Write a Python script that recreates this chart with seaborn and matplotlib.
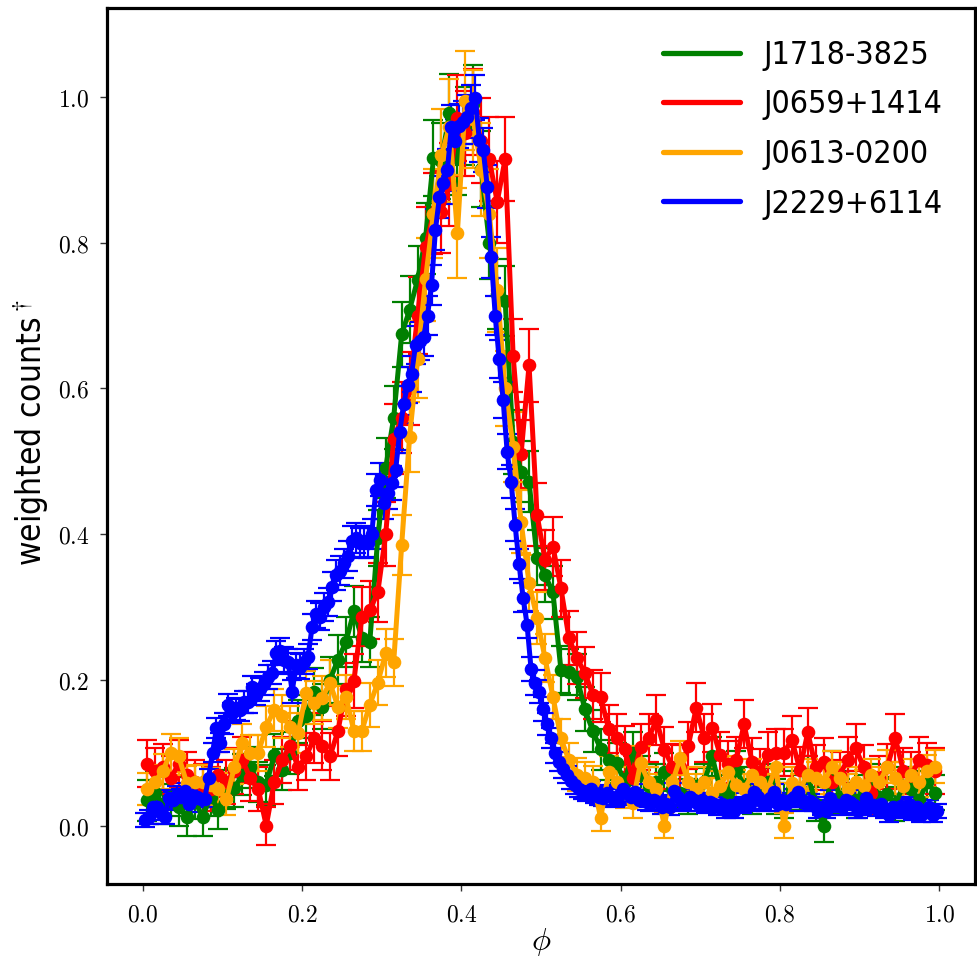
import numpy as np
import pandas as pd
import matplotlib
matplotlib.use("Agg")
import matplotlib.pyplot as plt
import seaborn as sns
from matplotlib.lines import Line2D
from matplotlib.font_manager import FontProperties

# ---------------- data ----------------
names = ["J1718-3825", "J0659+1414", "J0613-0200", "J2229+6114"]
colors = ["green", "red", "orange", "blue"]

phase100 = [round(0.005 + 0.01 * i, 4) for i in range(100)]
phase200 = [round(0.0025 + 0.005 * i, 5) for i in range(200)]

green_y = [
    0.035, 0.045, 0.030, 0.040, 0.025, 0.012, 0.035, 0.012, 0.040, 0.022,
    0.050, 0.052, 0.070, 0.080, 0.060, 0.056, 0.097, 0.077, 0.100, 0.143,
    0.150, 0.184, 0.163, 0.200, 0.228, 0.252, 0.294, 0.258, 0.252, 0.395,
    0.491, 0.560, 0.674, 0.708, 0.749, 0.806, 0.916, 0.912, 0.978, 0.917,
    0.960, 0.990, 0.901, 0.800, 0.730, 0.720, 0.527, 0.486, 0.472, 0.368,
    0.344, 0.320, 0.214, 0.211, 0.204, 0.160, 0.130, 0.105, 0.090, 0.086,
    0.060, 0.100, 0.070, 0.055, 0.060, 0.074, 0.050, 0.045, 0.040, 0.054,
    0.060, 0.095, 0.050, 0.045, 0.077, 0.055, 0.040, 0.054, 0.060, 0.040,
    0.035, 0.050, 0.045, 0.070, 0.030, 0.000, 0.077, 0.040, 0.050, 0.035,
    0.045, 0.059, 0.040, 0.043, 0.030, 0.055, 0.050, 0.035, 0.060, 0.045,
]
green_err = [
    0.028, 0.028, 0.027, 0.027, 0.026, 0.026, 0.026, 0.026, 0.027, 0.026,
    0.027, 0.027, 0.028, 0.028, 0.027, 0.027, 0.029, 0.028, 0.029, 0.030,
    0.030, 0.032, 0.031, 0.032, 0.033, 0.034, 0.035, 0.034, 0.034, 0.038,
    0.041, 0.043, 0.045, 0.046, 0.047, 0.049, 0.052, 0.052, 0.053, 0.052,
    0.053, 0.054, 0.052, 0.050, 0.048, 0.048, 0.044, 0.042, 0.042, 0.038,
    0.037, 0.036, 0.032, 0.032, 0.032, 0.030, 0.029, 0.028, 0.027, 0.027,
    0.025, 0.028, 0.026, 0.025, 0.025, 0.026, 0.025, 0.024, 0.024, 0.025,
    0.025, 0.027, 0.025, 0.024, 0.026, 0.025, 0.024, 0.025, 0.025, 0.024,
    0.024, 0.025, 0.024, 0.026, 0.023, 0.022, 0.026, 0.024, 0.025, 0.024,
    0.024, 0.025, 0.024, 0.024, 0.023, 0.025, 0.025, 0.024, 0.025, 0.024,
]

red_y = [
    0.085, 0.075, 0.080, 0.065, 0.085, 0.070, 0.060, 0.055, 0.050, 0.070,
    0.060, 0.075, 0.090, 0.065, 0.050, 0.000, 0.060, 0.090, 0.110, 0.080,
    0.095, 0.120, 0.110, 0.095, 0.130, 0.187, 0.198, 0.287, 0.296, 0.320,
    0.400, 0.530, 0.560, 0.600, 0.700, 0.794, 0.840, 0.842, 0.880, 0.971,
    0.950, 0.979, 0.940, 0.915, 0.856, 0.915, 0.645, 0.510, 0.632, 0.427,
    0.365, 0.383, 0.326, 0.258, 0.230, 0.210, 0.180, 0.176, 0.133, 0.120,
    0.105, 0.065, 0.108, 0.120, 0.145, 0.104, 0.081, 0.080, 0.110, 0.162,
    0.120, 0.134, 0.097, 0.085, 0.090, 0.139, 0.088, 0.074, 0.097, 0.100,
    0.100, 0.118, 0.077, 0.128, 0.080, 0.088, 0.060, 0.070, 0.090, 0.107,
    0.080, 0.045, 0.065, 0.081, 0.120, 0.075, 0.070, 0.090, 0.083, 0.075,
]
red_err = [
    0.032, 0.031, 0.032, 0.031, 0.032, 0.031, 0.030, 0.030, 0.030, 0.031,
    0.030, 0.031, 0.032, 0.031, 0.030, 0.026, 0.030, 0.032, 0.033, 0.031,
    0.032, 0.034, 0.033, 0.032, 0.034, 0.036, 0.037, 0.040, 0.040, 0.041,
    0.044, 0.048, 0.049, 0.050, 0.053, 0.055, 0.056, 0.056, 0.057, 0.059,
    0.058, 0.059, 0.058, 0.058, 0.056, 0.058, 0.050, 0.046, 0.050, 0.043,
    0.041, 0.041, 0.039, 0.037, 0.036, 0.035, 0.034, 0.034, 0.033, 0.033,
    0.032, 0.030, 0.032, 0.033, 0.034, 0.032, 0.031, 0.031, 0.032, 0.034,
    0.033, 0.033, 0.032, 0.031, 0.032, 0.033, 0.032, 0.031, 0.032, 0.032,
    0.032, 0.033, 0.031, 0.033, 0.031, 0.032, 0.030, 0.031, 0.032, 0.032,
    0.031, 0.029, 0.030, 0.031, 0.033, 0.031, 0.031, 0.032, 0.031, 0.031,
]

orange_y = [
    0.050, 0.060, 0.075, 0.100, 0.095, 0.059, 0.060, 0.060, 0.056, 0.050,
    0.036, 0.081, 0.114, 0.100, 0.100, 0.136, 0.159, 0.150, 0.136, 0.127,
    0.182, 0.169, 0.175, 0.196, 0.163, 0.177, 0.130, 0.130, 0.166, 0.196,
    0.237, 0.224, 0.385, 0.534, 0.640, 0.750, 0.840, 0.920, 0.959, 0.813,
    0.995, 0.970, 0.900, 0.840, 0.735, 0.600, 0.520, 0.417, 0.333, 0.285,
    0.230, 0.177, 0.120, 0.090, 0.070, 0.065, 0.060, 0.011, 0.074, 0.060,
    0.045, 0.031, 0.086, 0.060, 0.050, 0.000, 0.060, 0.093, 0.060, 0.050,
    0.060, 0.045, 0.054, 0.074, 0.056, 0.050, 0.070, 0.060, 0.050, 0.081,
    0.000, 0.059, 0.050, 0.070, 0.065, 0.060, 0.080, 0.065, 0.050, 0.060,
    0.055, 0.070, 0.060, 0.081, 0.065, 0.055, 0.070, 0.060, 0.075, 0.081,
]
orange_err = [
    0.022, 0.023, 0.024, 0.026, 0.025, 0.023, 0.023, 0.023, 0.023, 0.022,
    0.021, 0.024, 0.026, 0.025, 0.025, 0.028, 0.029, 0.029, 0.028, 0.027,
    0.030, 0.029, 0.030, 0.031, 0.029, 0.030, 0.028, 0.028, 0.030, 0.031,
    0.033, 0.032, 0.041, 0.048, 0.053, 0.057, 0.061, 0.064, 0.066, 0.062,
    0.068, 0.067, 0.064, 0.061, 0.057, 0.052, 0.048, 0.043, 0.039, 0.036,
    0.033, 0.030, 0.026, 0.024, 0.023, 0.022, 0.022, 0.018, 0.022, 0.021,
    0.021, 0.020, 0.023, 0.021, 0.021, 0.017, 0.021, 0.023, 0.021, 0.021,
    0.021, 0.021, 0.021, 0.022, 0.021, 0.021, 0.022, 0.021, 0.021, 0.023,
    0.017, 0.021, 0.021, 0.022, 0.022, 0.021, 0.023, 0.022, 0.021, 0.021,
    0.021, 0.022, 0.021, 0.023, 0.022, 0.021, 0.022, 0.021, 0.022, 0.023,
]

blue_y = [
    0.008, 0.012, 0.025, 0.026, 0.018, 0.012, 0.038, 0.035, 0.042, 0.040,
    0.047, 0.030, 0.036, 0.040, 0.036, 0.036, 0.066, 0.100, 0.134, 0.114,
    0.140, 0.166, 0.155, 0.160, 0.159, 0.170, 0.170, 0.190, 0.180, 0.187,
    0.195, 0.204, 0.210, 0.237, 0.240, 0.228, 0.225, 0.184, 0.220, 0.218,
    0.225, 0.232, 0.273, 0.290, 0.287, 0.300, 0.307, 0.328, 0.344, 0.350,
    0.360, 0.370, 0.390, 0.395, 0.388, 0.390, 0.388, 0.400, 0.460, 0.475,
    0.443, 0.457, 0.470, 0.488, 0.540, 0.578, 0.605, 0.620, 0.660, 0.665,
    0.670, 0.700, 0.742, 0.818, 0.863, 0.882, 0.900, 0.959, 0.940, 0.960,
    0.965, 0.973, 0.985, 0.999, 0.941, 0.927, 0.877, 0.780, 0.700, 0.640,
    0.584, 0.513, 0.472, 0.413, 0.359, 0.313, 0.276, 0.215, 0.196, 0.184,
    0.160, 0.140, 0.120, 0.100, 0.088, 0.078, 0.070, 0.062, 0.056, 0.050,
    0.048, 0.045, 0.050, 0.042, 0.040, 0.038, 0.045, 0.040, 0.035, 0.042,
    0.050, 0.045, 0.040, 0.046, 0.035, 0.038, 0.032, 0.030, 0.035, 0.032,
    0.026, 0.030, 0.025, 0.047, 0.040, 0.033, 0.030, 0.039, 0.035, 0.030,
    0.035, 0.028, 0.033, 0.030, 0.025, 0.030, 0.020, 0.028, 0.020, 0.030,
    0.027, 0.035, 0.030, 0.046, 0.040, 0.033, 0.030, 0.038, 0.046, 0.030,
    0.035, 0.030, 0.035, 0.040, 0.046, 0.035, 0.030, 0.034, 0.030, 0.020,
    0.025, 0.020, 0.038, 0.030, 0.029, 0.025, 0.035, 0.032, 0.028, 0.020,
    0.025, 0.038, 0.030, 0.028, 0.023, 0.030, 0.020, 0.015, 0.025, 0.020,
    0.027, 0.020, 0.030, 0.018, 0.025, 0.015, 0.020, 0.025, 0.015, 0.020,
]
blue_err = [
    0.010, 0.010, 0.011, 0.011, 0.010, 0.010, 0.011, 0.011, 0.012, 0.011,
    0.012, 0.011, 0.011, 0.011, 0.011, 0.011, 0.012, 0.013, 0.014, 0.013,
    0.014, 0.015, 0.014, 0.015, 0.015, 0.015, 0.015, 0.016, 0.015, 0.016,
    0.016, 0.016, 0.016, 0.017, 0.017, 0.017, 0.017, 0.016, 0.017, 0.017,
    0.017, 0.017, 0.018, 0.019, 0.019, 0.019, 0.019, 0.020, 0.020, 0.020,
    0.020, 0.021, 0.021, 0.021, 0.021, 0.021, 0.021, 0.021, 0.022, 0.023,
    0.022, 0.022, 0.023, 0.023, 0.024, 0.025, 0.025, 0.025, 0.026, 0.026,
    0.026, 0.027, 0.027, 0.028, 0.029, 0.029, 0.029, 0.030, 0.030, 0.030,
    0.030, 0.030, 0.031, 0.031, 0.030, 0.030, 0.029, 0.028, 0.027, 0.026,
    0.025, 0.024, 0.023, 0.022, 0.021, 0.020, 0.019, 0.017, 0.017, 0.016,
    0.016, 0.015, 0.014, 0.014, 0.013, 0.013, 0.012, 0.012, 0.012, 0.011,
    0.011, 0.011, 0.011, 0.011, 0.011, 0.011, 0.011, 0.011, 0.010, 0.011,
    0.011, 0.011, 0.011, 0.011, 0.010, 0.011, 0.010, 0.010, 0.010, 0.010,
    0.010, 0.010, 0.010, 0.011, 0.011, 0.010, 0.010, 0.011, 0.010, 0.010,
    0.010, 0.010, 0.010, 0.010, 0.010, 0.010, 0.010, 0.010, 0.010, 0.010,
    0.010, 0.010, 0.010, 0.011, 0.011, 0.010, 0.010, 0.011, 0.011, 0.010,
    0.010, 0.010, 0.010, 0.011, 0.011, 0.010, 0.010, 0.010, 0.010, 0.010,
    0.010, 0.010, 0.011, 0.010, 0.010, 0.010, 0.010, 0.010, 0.010, 0.010,
    0.010, 0.011, 0.010, 0.010, 0.010, 0.010, 0.010, 0.010, 0.010, 0.010,
    0.010, 0.010, 0.010, 0.010, 0.010, 0.010, 0.010, 0.010, 0.010, 0.010,
]

series = [
    (names[0], phase100, green_y, green_err, colors[0]),
    (names[1], phase100, red_y, red_err, colors[1]),
    (names[2], phase100, orange_y, orange_err, colors[2]),
    (names[3], phase200, blue_y, blue_err, colors[3]),
]

# ---------------- style ----------------
sns.set_theme(style="white")
plt.rcParams["mathtext.fontset"] = "cm"
plt.rcParams["font.family"] = ["DejaVu Sans"]
for k in ["text.color", "axes.labelcolor", "xtick.color", "ytick.color"]:
    plt.rcParams[k] = "black"

W, H = 978, 961
fig = plt.figure(figsize=(W / 100, H / 100), dpi=100)
ax = fig.add_axes([107 / W, 1 - 884 / H, (975 - 107) / W, (884 - 8) / H])

for name, xs, ys, es, c in series:
    df = pd.DataFrame({"phase": xs, "counts": ys, "err": es})
    ax.errorbar(df["phase"], df["counts"], yerr=df["err"], fmt="none",
                ecolor=c, elinewidth=1.6, capsize=7, capthick=1.6, zorder=2)
    sns.lineplot(data=df, x="phase", y="counts", color=c, marker="o",
                 markersize=9.8, markeredgewidth=0, linewidth=3.6,
                 ax=ax, zorder=3, legend=False)

ax.set_xlim(-0.045, 1.045)
ax.set_ylim(-0.08, 1.122)

xt = [0.0, 0.2, 0.4, 0.6, 0.8, 1.0]
yt = [0.0, 0.2, 0.4, 0.6, 0.8, 1.0]
ax.set_xticks(xt)
ax.set_yticks(yt)
ax.set_xticklabels([r"$%.1f$" % v for v in xt], fontsize=17)
ax.set_yticklabels([r"$%.1f$" % v for v in yt], fontsize=17)
ax.tick_params(axis="both", which="both", direction="out", length=5,
               width=1, color="#333333", labelcolor="black",
               bottom=True, left=True, top=False, right=False, pad=8)

for sp in ax.spines.values():
    sp.set_visible(True)
    sp.set_color("black")
    sp.set_linewidth(2.3)

cond_label = FontProperties(family="DejaVu Sans", stretch="condensed", size=24)
cond_leg = FontProperties(family="DejaVu Sans", stretch="condensed", size=23)

ax.set_xlabel(r"$\phi$", fontsize=23, labelpad=0, color="black")
ax.set_ylabel(r"weighted counts$^\dagger$", fontproperties=cond_label,
              labelpad=1, color="black")
ax.yaxis.set_label_coords(-0.063, 0.515)

handles = [Line2D([0], [0], color=c, lw=3.8) for c in colors]
leg = ax.legend(handles, names, loc="upper right", frameon=False,
                prop=cond_leg, handlelength=2.4, handletextpad=0.75,
                labelspacing=0.58, borderaxespad=0.6)
for t in leg.get_texts():
    t.set_color("black")

fig.savefig("out.png", dpi=100)
